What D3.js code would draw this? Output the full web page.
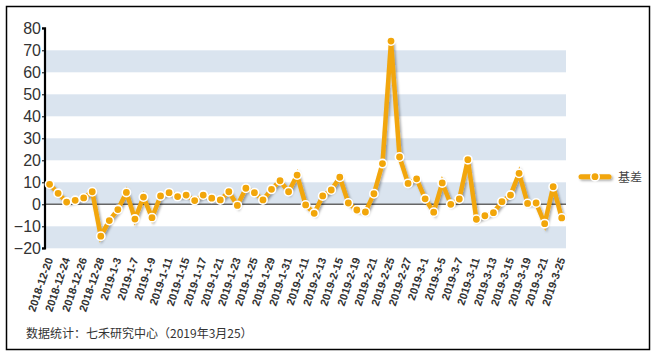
<!DOCTYPE html>
<html><head><meta charset="utf-8">
<script src="https://cdn.jsdelivr.net/npm/d3@7"></script>
<style>body{margin:0;background:#fff}svg{display:block}</style>
</head><body>
<script>
const dates = ["2018-12-20","2018-12-21","2018-12-24","2018-12-25","2018-12-26","2018-12-27","2018-12-28",
"2019-1-2","2019-1-3","2019-1-4","2019-1-7","2019-1-8","2019-1-9","2019-1-10","2019-1-11",
"2019-1-14","2019-1-15","2019-1-16","2019-1-17","2019-1-18","2019-1-21","2019-1-22","2019-1-23","2019-1-24","2019-1-25",
"2019-1-28","2019-1-29","2019-1-30","2019-1-31","2019-2-1","2019-2-11","2019-2-12","2019-2-13","2019-2-14","2019-2-15",
"2019-2-18","2019-2-19","2019-2-20","2019-2-21","2019-2-22","2019-2-25","2019-2-26","2019-2-27","2019-2-28","2019-3-1",
"2019-3-4","2019-3-5","2019-3-6","2019-3-7","2019-3-8","2019-3-11","2019-3-12","2019-3-13","2019-3-14","2019-3-15",
"2019-3-18","2019-3-19","2019-3-20","2019-3-21","2019-3-22","2019-3-25"];
const basis = [9.1,5.0,1.0,1.8,2.9,5.7,-14.5,-7.4,-2.4,5.4,-6.7,3.3,-6.1,3.8,5.3,3.5,4.2,1.7,4.2,2.8,
2.0,5.7,-0.5,7.3,5.3,2.0,6.8,10.7,5.7,13.3,-0.3,-4.1,3.8,6.5,12.3,0.6,-2.6,-3.5,4.8,18.5,
74.2,21.5,9.5,11.6,2.5,-3.6,9.7,0.0,2.4,20.3,-6.8,-5.2,-3.8,1.2,4.2,14.1,0.4,0.6,-8.8,8.0,-6.2];
const tickLabels = ["2018-12-20","2018-12-24","2018-12-26","2018-12-28","2019-1-3","2019-1-7","2019-1-9","2019-1-11",
"2019-1-15","2019-1-17","2019-1-21","2019-1-23","2019-1-25","2019-1-29","2019-1-31","2019-2-11","2019-2-13","2019-2-15",
"2019-2-19","2019-2-21","2019-2-25","2019-2-27","2019-3-1","2019-3-5","2019-3-7","2019-3-11","2019-3-13","2019-3-15",
"2019-3-19","2019-3-21","2019-3-25"];
const yTicks = [-20,-10,0,10,20,30,40,50,60,70,80];
const seriesName = "基差";
const footnote = "数据统计：七禾研究中心（2019年3月25）";

const W = 656, H = 356;
const svg = d3.select("body").append("svg").attr("width", W).attr("height", H);
const defs = svg.append("defs");
const f = defs.append("filter").attr("id","sh").attr("filterUnits","userSpaceOnUse")
  .attr("x",0).attr("y",0).attr("width",W).attr("height",H);
f.append("feDropShadow").attr("dx",1.5).attr("dy",1.5).attr("stdDeviation",1.2).attr("flood-color","#000").attr("flood-opacity",0.35);

svg.append("rect").attr("x",6.5).attr("y",6.5).attr("width",643).attr("height",343)
  .attr("fill","#fff").attr("stroke","#000").attr("stroke-width",1.5);

const x = d3.scaleBand().domain(dates).range([45.3, 566]).padding(0);
const y = d3.scaleLinear().domain([-20, 80]).range([248.3, 28.3]);
const cx = d => x(d) + x.bandwidth()/2;

// bands
const bandStarts = yTicks.filter(v => v < 80 && ((v + 20) / 10) % 2 === 0);
svg.append("g").selectAll("rect").data(bandStarts).join("rect")
  .attr("x", 45.3).attr("width", 566 - 45.3)
  .attr("y", d => y(d + 10)).attr("height", d => y(d) - y(d + 10))
  .attr("fill", "#dae4ef");

// zero line
svg.append("line").attr("x1",45).attr("x2",566).attr("y1",y(0)).attr("y2",y(0))
  .attr("stroke","#666").attr("stroke-width",1.5);

// y axis
const yAxis = d3.axisLeft(y).tickValues(yTicks).tickSize(3).tickPadding(1);
const gy = svg.append("g").attr("transform","translate(45,0)").call(yAxis);
gy.select(".domain").attr("stroke","#000").attr("stroke-width",2.2).attr("d", `M-3,${y(80)}H0V${y(-20)}H-3`);
gy.selectAll(".tick line").attr("stroke","#000").attr("stroke-width",1);
gy.selectAll("text").attr("font-family","Liberation Sans, Arial, sans-serif").attr("font-size",16).attr("fill","#333");

// x axis labels
const xAxis = d3.axisBottom(x).tickValues(tickLabels).tickSize(0).tickPadding(0);
const gx = svg.append("g").attr("transform","translate(0,258)").call(xAxis);
gx.select(".domain").remove();
gx.selectAll("text")
  .attr("font-family","Liberation Sans, Arial, sans-serif").attr("font-size",11).attr("font-weight","bold").attr("fill","#333")
  .attr("text-anchor","end").attr("y",0).attr("x",0).attr("dy","0.35em")
  .attr("transform","rotate(-71)");

// line
const line = d3.line().x((d,i) => cx(dates[i])).y(d => y(d));
svg.append("path").datum(basis).attr("d", line)
  .attr("fill","none").attr("stroke","#f2a60a").attr("stroke-width",4.5)
  .attr("stroke-linejoin","miter").attr("filter","url(#sh)");

svg.append("g").selectAll("circle").data(basis).join("circle")
  .attr("cx",(d,i) => cx(dates[i])).attr("cy", d => y(d)).attr("r",4.2)
  .attr("fill","#f2a60a").attr("stroke","#fff").attr("stroke-width",1.6);

// legend
const lg = svg.append("g");
lg.append("line").attr("x1",581).attr("x2",609).attr("y1",176.7).attr("y2",176.7)
  .attr("stroke","#f2a60a").attr("stroke-width",5).attr("stroke-linecap","round").attr("filter","url(#sh)");
lg.append("circle").attr("cx",595).attr("cy",176.7).attr("r",4.2)
  .attr("fill","#f2a60a").attr("stroke","#fff").attr("stroke-width",1.6);
lg.append("text").attr("x",618).attr("y",182).text(seriesName)
  .attr("font-family","Noto Sans CJK SC, sans-serif").attr("font-size",12).attr("fill","#444");

// footnote
svg.append("text").attr("x",26).attr("y",338).text(footnote)
  .attr("font-family","Noto Sans CJK SC, Liberation Sans, sans-serif").attr("font-size",12).attr("fill","#333");
</script>
</body></html>
